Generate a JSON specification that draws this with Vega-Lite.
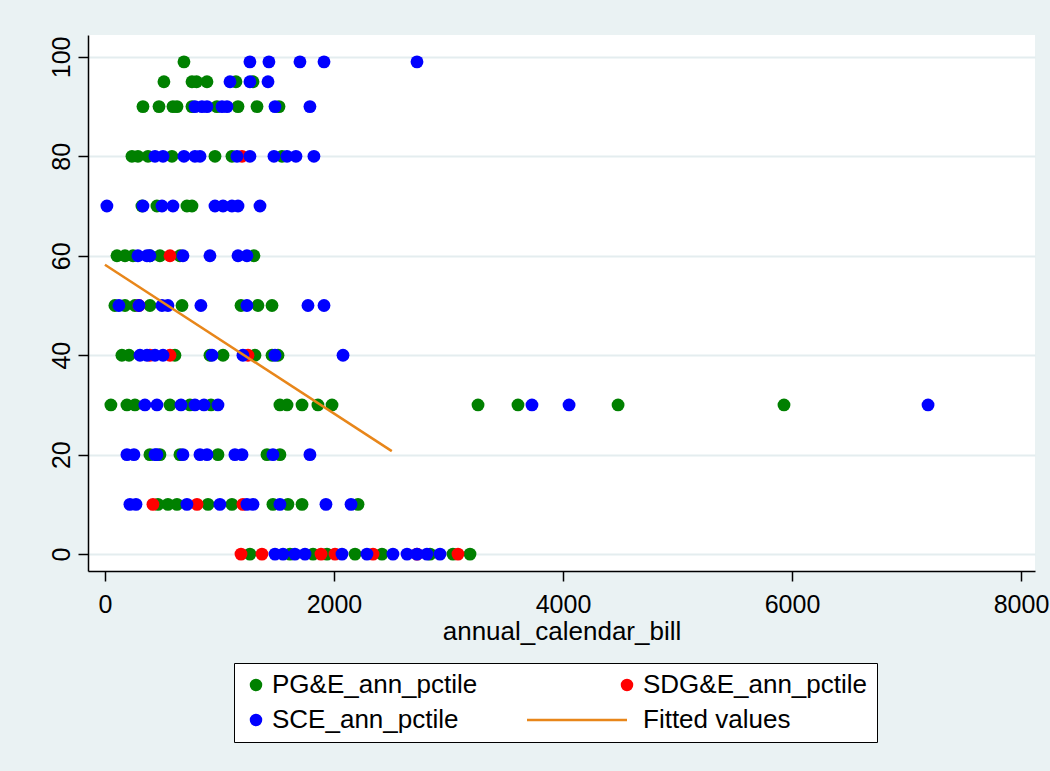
{
  "$schema": "https://vega.github.io/schema/vega-lite/v6.json",
  "width": 947,
  "height": 536,
  "autosize": {"type": "none"},
  "padding": {"left": 88, "top": 35, "right": 15, "bottom": 200},
  "background": "#EAF2F3",
  "view": {"fill": "white", "stroke": null},
  "config": {"font": "Liberation Sans"},
  "datasets": {
    "points": [
      {"series": "PG&E_ann_pctile", "bill": 690, "pctile": 99},
      {"series": "PG&E_ann_pctile", "bill": 515, "pctile": 95},
      {"series": "PG&E_ann_pctile", "bill": 760, "pctile": 95},
      {"series": "PG&E_ann_pctile", "bill": 800, "pctile": 95},
      {"series": "PG&E_ann_pctile", "bill": 891, "pctile": 95},
      {"series": "PG&E_ann_pctile", "bill": 1144, "pctile": 95},
      {"series": "PG&E_ann_pctile", "bill": 1293, "pctile": 95},
      {"series": "PG&E_ann_pctile", "bill": 332, "pctile": 90},
      {"series": "PG&E_ann_pctile", "bill": 472, "pctile": 90},
      {"series": "PG&E_ann_pctile", "bill": 594, "pctile": 90},
      {"series": "PG&E_ann_pctile", "bill": 629, "pctile": 90},
      {"series": "PG&E_ann_pctile", "bill": 760, "pctile": 90},
      {"series": "PG&E_ann_pctile", "bill": 978, "pctile": 90},
      {"series": "PG&E_ann_pctile", "bill": 1162, "pctile": 90},
      {"series": "PG&E_ann_pctile", "bill": 1328, "pctile": 90},
      {"series": "PG&E_ann_pctile", "bill": 1520, "pctile": 90},
      {"series": "PG&E_ann_pctile", "bill": 236, "pctile": 80},
      {"series": "PG&E_ann_pctile", "bill": 288, "pctile": 80},
      {"series": "PG&E_ann_pctile", "bill": 376, "pctile": 80},
      {"series": "PG&E_ann_pctile", "bill": 585, "pctile": 80},
      {"series": "PG&E_ann_pctile", "bill": 961, "pctile": 80},
      {"series": "PG&E_ann_pctile", "bill": 1109, "pctile": 80},
      {"series": "PG&E_ann_pctile", "bill": 1546, "pctile": 80},
      {"series": "PG&E_ann_pctile", "bill": 323, "pctile": 70},
      {"series": "PG&E_ann_pctile", "bill": 454, "pctile": 70},
      {"series": "PG&E_ann_pctile", "bill": 716, "pctile": 70},
      {"series": "PG&E_ann_pctile", "bill": 760, "pctile": 70},
      {"series": "PG&E_ann_pctile", "bill": 105, "pctile": 60},
      {"series": "PG&E_ann_pctile", "bill": 175, "pctile": 60},
      {"series": "PG&E_ann_pctile", "bill": 245, "pctile": 60},
      {"series": "PG&E_ann_pctile", "bill": 393, "pctile": 60},
      {"series": "PG&E_ann_pctile", "bill": 480, "pctile": 60},
      {"series": "PG&E_ann_pctile", "bill": 655, "pctile": 60},
      {"series": "PG&E_ann_pctile", "bill": 1301, "pctile": 60},
      {"series": "PG&E_ann_pctile", "bill": 87, "pctile": 50},
      {"series": "PG&E_ann_pctile", "bill": 175, "pctile": 50},
      {"series": "PG&E_ann_pctile", "bill": 262, "pctile": 50},
      {"series": "PG&E_ann_pctile", "bill": 393, "pctile": 50},
      {"series": "PG&E_ann_pctile", "bill": 673, "pctile": 50},
      {"series": "PG&E_ann_pctile", "bill": 1188, "pctile": 50},
      {"series": "PG&E_ann_pctile", "bill": 1336, "pctile": 50},
      {"series": "PG&E_ann_pctile", "bill": 1459, "pctile": 50},
      {"series": "PG&E_ann_pctile", "bill": 148, "pctile": 40},
      {"series": "PG&E_ann_pctile", "bill": 210, "pctile": 40},
      {"series": "PG&E_ann_pctile", "bill": 611, "pctile": 40},
      {"series": "PG&E_ann_pctile", "bill": 917, "pctile": 40},
      {"series": "PG&E_ann_pctile", "bill": 1031, "pctile": 40},
      {"series": "PG&E_ann_pctile", "bill": 1310, "pctile": 40},
      {"series": "PG&E_ann_pctile", "bill": 1459, "pctile": 40},
      {"series": "PG&E_ann_pctile", "bill": 1511, "pctile": 40},
      {"series": "PG&E_ann_pctile", "bill": 52, "pctile": 30},
      {"series": "PG&E_ann_pctile", "bill": 192, "pctile": 30},
      {"series": "PG&E_ann_pctile", "bill": 262, "pctile": 30},
      {"series": "PG&E_ann_pctile", "bill": 568, "pctile": 30},
      {"series": "PG&E_ann_pctile", "bill": 742, "pctile": 30},
      {"series": "PG&E_ann_pctile", "bill": 926, "pctile": 30},
      {"series": "PG&E_ann_pctile", "bill": 1528, "pctile": 30},
      {"series": "PG&E_ann_pctile", "bill": 1590, "pctile": 30},
      {"series": "PG&E_ann_pctile", "bill": 1721, "pctile": 30},
      {"series": "PG&E_ann_pctile", "bill": 1860, "pctile": 30},
      {"series": "PG&E_ann_pctile", "bill": 1983, "pctile": 30},
      {"series": "PG&E_ann_pctile", "bill": 3258, "pctile": 30},
      {"series": "PG&E_ann_pctile", "bill": 3607, "pctile": 30},
      {"series": "PG&E_ann_pctile", "bill": 4481, "pctile": 30},
      {"series": "PG&E_ann_pctile", "bill": 5930, "pctile": 30},
      {"series": "PG&E_ann_pctile", "bill": 393, "pctile": 20},
      {"series": "PG&E_ann_pctile", "bill": 480, "pctile": 20},
      {"series": "PG&E_ann_pctile", "bill": 655, "pctile": 20},
      {"series": "PG&E_ann_pctile", "bill": 987, "pctile": 20},
      {"series": "PG&E_ann_pctile", "bill": 1415, "pctile": 20},
      {"series": "PG&E_ann_pctile", "bill": 1528, "pctile": 20},
      {"series": "PG&E_ann_pctile", "bill": 463, "pctile": 10},
      {"series": "PG&E_ann_pctile", "bill": 550, "pctile": 10},
      {"series": "PG&E_ann_pctile", "bill": 629, "pctile": 10},
      {"series": "PG&E_ann_pctile", "bill": 900, "pctile": 10},
      {"series": "PG&E_ann_pctile", "bill": 1109, "pctile": 10},
      {"series": "PG&E_ann_pctile", "bill": 1467, "pctile": 10},
      {"series": "PG&E_ann_pctile", "bill": 1598, "pctile": 10},
      {"series": "PG&E_ann_pctile", "bill": 1721, "pctile": 10},
      {"series": "PG&E_ann_pctile", "bill": 2210, "pctile": 10},
      {"series": "PG&E_ann_pctile", "bill": 1266, "pctile": 0},
      {"series": "PG&E_ann_pctile", "bill": 1616, "pctile": 0},
      {"series": "PG&E_ann_pctile", "bill": 1817, "pctile": 0},
      {"series": "PG&E_ann_pctile", "bill": 1939, "pctile": 0},
      {"series": "PG&E_ann_pctile", "bill": 2184, "pctile": 0},
      {"series": "PG&E_ann_pctile", "bill": 2419, "pctile": 0},
      {"series": "PG&E_ann_pctile", "bill": 2839, "pctile": 0},
      {"series": "PG&E_ann_pctile", "bill": 3039, "pctile": 0},
      {"series": "PG&E_ann_pctile", "bill": 3188, "pctile": 0},
      {"series": "SDG&E_ann_pctile", "bill": 1197, "pctile": 80},
      {"series": "SDG&E_ann_pctile", "bill": 568, "pctile": 60},
      {"series": "SDG&E_ann_pctile", "bill": 297, "pctile": 50},
      {"series": "SDG&E_ann_pctile", "bill": 393, "pctile": 40},
      {"series": "SDG&E_ann_pctile", "bill": 568, "pctile": 40},
      {"series": "SDG&E_ann_pctile", "bill": 1249, "pctile": 40},
      {"series": "SDG&E_ann_pctile", "bill": 419, "pctile": 10},
      {"series": "SDG&E_ann_pctile", "bill": 804, "pctile": 10},
      {"series": "SDG&E_ann_pctile", "bill": 1205, "pctile": 10},
      {"series": "SDG&E_ann_pctile", "bill": 1188, "pctile": 0},
      {"series": "SDG&E_ann_pctile", "bill": 1371, "pctile": 0},
      {"series": "SDG&E_ann_pctile", "bill": 1887, "pctile": 0},
      {"series": "SDG&E_ann_pctile", "bill": 2009, "pctile": 0},
      {"series": "SDG&E_ann_pctile", "bill": 2341, "pctile": 0},
      {"series": "SDG&E_ann_pctile", "bill": 2725, "pctile": 0},
      {"series": "SDG&E_ann_pctile", "bill": 3083, "pctile": 0},
      {"series": "SCE_ann_pctile", "bill": 1266, "pctile": 99},
      {"series": "SCE_ann_pctile", "bill": 1432, "pctile": 99},
      {"series": "SCE_ann_pctile", "bill": 1703, "pctile": 99},
      {"series": "SCE_ann_pctile", "bill": 1913, "pctile": 99},
      {"series": "SCE_ann_pctile", "bill": 2725, "pctile": 99},
      {"series": "SCE_ann_pctile", "bill": 1092, "pctile": 95},
      {"series": "SCE_ann_pctile", "bill": 1266, "pctile": 95},
      {"series": "SCE_ann_pctile", "bill": 1424, "pctile": 95},
      {"series": "SCE_ann_pctile", "bill": 786, "pctile": 90},
      {"series": "SCE_ann_pctile", "bill": 847, "pctile": 90},
      {"series": "SCE_ann_pctile", "bill": 891, "pctile": 90},
      {"series": "SCE_ann_pctile", "bill": 1022, "pctile": 90},
      {"series": "SCE_ann_pctile", "bill": 1066, "pctile": 90},
      {"series": "SCE_ann_pctile", "bill": 1485, "pctile": 90},
      {"series": "SCE_ann_pctile", "bill": 1790, "pctile": 90},
      {"series": "SCE_ann_pctile", "bill": 437, "pctile": 80},
      {"series": "SCE_ann_pctile", "bill": 507, "pctile": 80},
      {"series": "SCE_ann_pctile", "bill": 690, "pctile": 80},
      {"series": "SCE_ann_pctile", "bill": 786, "pctile": 80},
      {"series": "SCE_ann_pctile", "bill": 830, "pctile": 80},
      {"series": "SCE_ann_pctile", "bill": 1153, "pctile": 80},
      {"series": "SCE_ann_pctile", "bill": 1266, "pctile": 80},
      {"series": "SCE_ann_pctile", "bill": 1476, "pctile": 80},
      {"series": "SCE_ann_pctile", "bill": 1590, "pctile": 80},
      {"series": "SCE_ann_pctile", "bill": 1668, "pctile": 80},
      {"series": "SCE_ann_pctile", "bill": 1825, "pctile": 80},
      {"series": "SCE_ann_pctile", "bill": 17, "pctile": 70},
      {"series": "SCE_ann_pctile", "bill": 332, "pctile": 70},
      {"series": "SCE_ann_pctile", "bill": 498, "pctile": 70},
      {"series": "SCE_ann_pctile", "bill": 594, "pctile": 70},
      {"series": "SCE_ann_pctile", "bill": 961, "pctile": 70},
      {"series": "SCE_ann_pctile", "bill": 1031, "pctile": 70},
      {"series": "SCE_ann_pctile", "bill": 1109, "pctile": 70},
      {"series": "SCE_ann_pctile", "bill": 1162, "pctile": 70},
      {"series": "SCE_ann_pctile", "bill": 1354, "pctile": 70},
      {"series": "SCE_ann_pctile", "bill": 288, "pctile": 60},
      {"series": "SCE_ann_pctile", "bill": 367, "pctile": 60},
      {"series": "SCE_ann_pctile", "bill": 393, "pctile": 60},
      {"series": "SCE_ann_pctile", "bill": 681, "pctile": 60},
      {"series": "SCE_ann_pctile", "bill": 917, "pctile": 60},
      {"series": "SCE_ann_pctile", "bill": 1162, "pctile": 60},
      {"series": "SCE_ann_pctile", "bill": 1240, "pctile": 60},
      {"series": "SCE_ann_pctile", "bill": 122, "pctile": 50},
      {"series": "SCE_ann_pctile", "bill": 297, "pctile": 50},
      {"series": "SCE_ann_pctile", "bill": 498, "pctile": 50},
      {"series": "SCE_ann_pctile", "bill": 550, "pctile": 50},
      {"series": "SCE_ann_pctile", "bill": 838, "pctile": 50},
      {"series": "SCE_ann_pctile", "bill": 1240, "pctile": 50},
      {"series": "SCE_ann_pctile", "bill": 1773, "pctile": 50},
      {"series": "SCE_ann_pctile", "bill": 1913, "pctile": 50},
      {"series": "SCE_ann_pctile", "bill": 306, "pctile": 40},
      {"series": "SCE_ann_pctile", "bill": 367, "pctile": 40},
      {"series": "SCE_ann_pctile", "bill": 437, "pctile": 40},
      {"series": "SCE_ann_pctile", "bill": 507, "pctile": 40},
      {"series": "SCE_ann_pctile", "bill": 935, "pctile": 40},
      {"series": "SCE_ann_pctile", "bill": 1205, "pctile": 40},
      {"series": "SCE_ann_pctile", "bill": 1485, "pctile": 40},
      {"series": "SCE_ann_pctile", "bill": 2079, "pctile": 40},
      {"series": "SCE_ann_pctile", "bill": 349, "pctile": 30},
      {"series": "SCE_ann_pctile", "bill": 454, "pctile": 30},
      {"series": "SCE_ann_pctile", "bill": 664, "pctile": 30},
      {"series": "SCE_ann_pctile", "bill": 786, "pctile": 30},
      {"series": "SCE_ann_pctile", "bill": 865, "pctile": 30},
      {"series": "SCE_ann_pctile", "bill": 987, "pctile": 30},
      {"series": "SCE_ann_pctile", "bill": 3729, "pctile": 30},
      {"series": "SCE_ann_pctile", "bill": 4053, "pctile": 30},
      {"series": "SCE_ann_pctile", "bill": 7188, "pctile": 30},
      {"series": "SCE_ann_pctile", "bill": 192, "pctile": 20},
      {"series": "SCE_ann_pctile", "bill": 253, "pctile": 20},
      {"series": "SCE_ann_pctile", "bill": 437, "pctile": 20},
      {"series": "SCE_ann_pctile", "bill": 454, "pctile": 20},
      {"series": "SCE_ann_pctile", "bill": 681, "pctile": 20},
      {"series": "SCE_ann_pctile", "bill": 830, "pctile": 20},
      {"series": "SCE_ann_pctile", "bill": 891, "pctile": 20},
      {"series": "SCE_ann_pctile", "bill": 1135, "pctile": 20},
      {"series": "SCE_ann_pctile", "bill": 1197, "pctile": 20},
      {"series": "SCE_ann_pctile", "bill": 1467, "pctile": 20},
      {"series": "SCE_ann_pctile", "bill": 1790, "pctile": 20},
      {"series": "SCE_ann_pctile", "bill": 218, "pctile": 10},
      {"series": "SCE_ann_pctile", "bill": 271, "pctile": 10},
      {"series": "SCE_ann_pctile", "bill": 716, "pctile": 10},
      {"series": "SCE_ann_pctile", "bill": 1004, "pctile": 10},
      {"series": "SCE_ann_pctile", "bill": 1240, "pctile": 10},
      {"series": "SCE_ann_pctile", "bill": 1293, "pctile": 10},
      {"series": "SCE_ann_pctile", "bill": 1528, "pctile": 10},
      {"series": "SCE_ann_pctile", "bill": 1930, "pctile": 10},
      {"series": "SCE_ann_pctile", "bill": 2149, "pctile": 10},
      {"series": "SCE_ann_pctile", "bill": 1485, "pctile": 0},
      {"series": "SCE_ann_pctile", "bill": 1555, "pctile": 0},
      {"series": "SCE_ann_pctile", "bill": 1659, "pctile": 0},
      {"series": "SCE_ann_pctile", "bill": 1747, "pctile": 0},
      {"series": "SCE_ann_pctile", "bill": 2070, "pctile": 0},
      {"series": "SCE_ann_pctile", "bill": 2288, "pctile": 0},
      {"series": "SCE_ann_pctile", "bill": 2515, "pctile": 0},
      {"series": "SCE_ann_pctile", "bill": 2638, "pctile": 0},
      {"series": "SCE_ann_pctile", "bill": 2725, "pctile": 0},
      {"series": "SCE_ann_pctile", "bill": 2812, "pctile": 0},
      {"series": "SCE_ann_pctile", "bill": 2926, "pctile": 0}
    ],
    "fit": [
      {"series": "Fitted values", "bill": 0, "fit": 58.2},
      {"series": "Fitted values", "bill": 2505, "fit": 20.7}
    ]
  },
  "layer": [
    {
      "data": {"name": "points"},
      "mark": {"type": "point", "filled": true, "opacity": 1, "size": 165, "strokeWidth": 0},
      "encoding": {
        "x": {
          "field": "bill", "type": "quantitative",
          "scale": {"domain": [-148, 8122], "nice": false, "zero": false},
          "axis": {
            "values": [0, 2000, 4000, 6000, 8000],
            "format": "d",
            "grid": false,
            "domainColor": "black", "domainWidth": 1.5,
            "tickColor": "black", "tickSize": 10, "tickWidth": 1.5,
            "labelFontSize": 25, "labelColor": "black", "labelPadding": 11,
            "labelFlush": false, "labelOverlap": false,
            "title": "annual_calendar_bill",
            "titleFontSize": 26, "titleFontWeight": "normal", "titleColor": "black",
            "titlePadding": 1
          }
        },
        "y": {
          "field": "pctile", "type": "quantitative",
          "scale": {"domain": [-3.4, 104.4], "nice": false, "zero": false},
          "axis": {
            "values": [0, 20, 40, 60, 80, 100],
            "format": "d",
            "grid": true, "gridColor": "#E4EDEF", "gridWidth": 2,
            "domainColor": "black", "domainWidth": 1.5,
            "tickColor": "black", "tickSize": 10, "tickWidth": 1.5,
            "labelFontSize": 25, "labelColor": "black",
            "labelAngle": -90, "labelAlign": "center", "labelBaseline": "bottom",
            "labelPadding": 4, "labelFlush": false, "labelOverlap": false,
            "title": null
          }
        },
        "color": {
          "field": "series", "type": "nominal",
          "scale": {
            "domain": ["PG&E_ann_pctile", "SDG&E_ann_pctile", "SCE_ann_pctile", "Fitted values"],
            "range": ["#008000", "#FF0000", "#0000FF", "#E8861A"]
          },
          "legend": {
            "orient": "none", "legendX": 146, "legendY": 628,
            "direction": "horizontal",
            "columns": 2, "title": null,
            "symbolSize": 100, "symbolStrokeWidth": 2.5, "symbolOpacity": 1,
            "labelFontSize": 26, "labelColor": "black", "labelFont": "Liberation Sans",
            "labelOffset": 3, "labelLimit": 0,
            "padding": 9, "rowPadding": 9, "columnPadding": 44,
            "fillColor": "white", "strokeColor": "black",
            "encode": {
              "symbols": {
                "update": {
                  "fill": {"scale": "color", "field": "value"},
                  "stroke": {"scale": "color", "field": "value"}
                }
              }
            }
          }
        },
        "shape": {
          "field": "series", "type": "nominal",
          "scale": {
            "domain": ["PG&E_ann_pctile", "SDG&E_ann_pctile", "SCE_ann_pctile", "Fitted values"],
            "range": ["circle", "circle", "circle", "M-20,0H0"]
          }
        }
      }
    },
    {
      "data": {"name": "fit"},
      "mark": {"type": "line", "strokeWidth": 2.5},
      "encoding": {
        "x": {"field": "bill", "type": "quantitative"},
        "y": {"field": "fit", "type": "quantitative"},
        "color": {"field": "series", "type": "nominal"}
      }
    }
  ]
}
